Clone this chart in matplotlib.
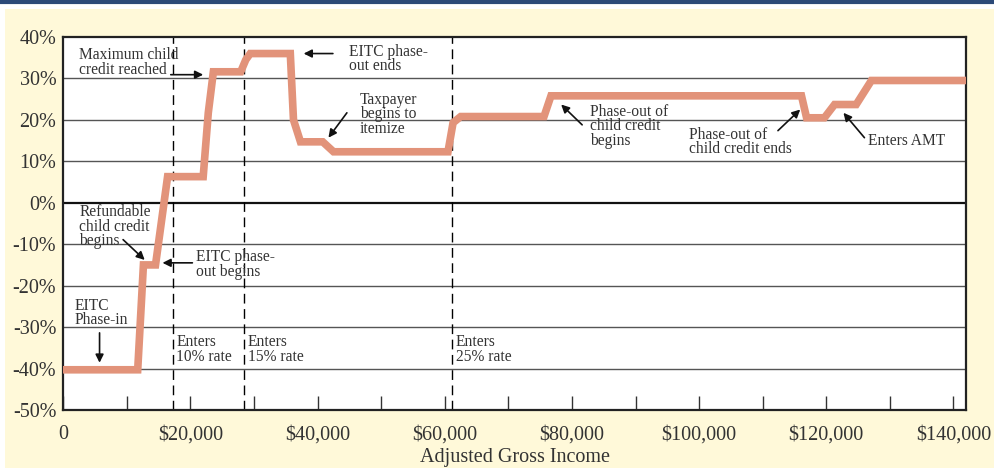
import numpy as np
import matplotlib.pyplot as plt
from matplotlib.patches import Rectangle
from matplotlib.lines import Line2D

plt.rcParams['font.family'] = ['Liberation Serif', 'DejaVu Serif']

# marginal tax rate schedule, income in dollars, rate in percent
income = [0, 11700, 12600, 14500, 16400, 22000, 22800, 23600, 27900, 28700, 29400,
          35700, 36200, 37300, 40800, 42500, 60500, 61300, 62500, 75600, 76700,
          116100, 116900, 119700, 121300, 124700, 127100, 141700]
rate = [-40.3, -40.3, -15, -15, 6.3, 6.3, 21.7, 31.6, 31.6, 34.5, 36,
        36, 20, 14.7, 14.7, 12.3, 12.3, 19.3, 20.8, 20.8, 25.8,
        25.8, 20.5, 20.5, 23.7, 23.7, 29.5, 29.5]

bracket_x = [17200, 28400, 61100]
bracket_labels = ['Enters\n10% rate', 'Enters\n15% rate', 'Enters\n25% rate']

# (text, text xy, arrow tail, arrow head)
notes = [
    ('Maximum child\ncredit reached', (2400, 33.9), (16900, 30.9), (22000, 30.9)),
    ('EITC phase-\nout ends', (44900, 34.7), (42400, 36.0), (37800, 36.0)),
    ('Taxpayer\nbegins to\nitemize', (46600, 21.3), (44600, 21.7), (41700, 15.7)),
    ('Phase-out of\nchild credit\nbegins', (82800, 18.4), (81600, 18.8), (78300, 23.7)),
    ('Phase-out of\nchild credit ends', (98400, 14.7), (112400, 17.4), (115900, 22.5)),
    ('Enters AMT', (126500, 15.0), (126000, 15.7), (122700, 21.7)),
    ('Refundable\nchild credit\nbegins', (2500, -5.8), (9400, -8.9), (12800, -13.8)),
    ('EITC phase-\nout begins', (20800, -14.9), (20300, -14.5), (15600, -14.5)),
    ('EITC\nPhase-in', (1700, -26.6), (5700, -31.4), (5700, -38.6)),
]

fig = plt.figure(figsize=(9.94, 4.68), dpi=100)
fig.patches.append(Rectangle((0.005, 0), 0.995, 0.98, transform=fig.transFigure,
                             facecolor='#FFF9D9', edgecolor='none', zorder=-10))
fig.add_artist(Line2D([0, 1], [0.996, 0.996], transform=fig.transFigure,
                      color='#2C4A78', lw=3))

ax = fig.add_axes([0.0637, 0.124, 0.9083, 0.797])
ax.set_xlim(0, 142000)
ax.set_ylim(-50, 40)

for y in range(-40, 40, 10):
    ax.axhline(y, color='#111111' if y == 0 else '#555555',
               lw=1.6 if y == 0 else 1.0, zorder=1)

for bx, lab in zip(bracket_x, bracket_labels):
    ax.axvline(bx, color='black', lw=1.0, dashes=(7, 4), zorder=2)
    ax.text(bx + 600, -35.4, lab, fontsize=11.2, va='center', ha='left',
            color='#333333', linespacing=0.88)

ax.plot(income, rate, color='#E2937A', lw=5.5, solid_joinstyle='miter', zorder=3)

for txt, xy, tail, head in notes:
    ax.text(xy[0], xy[1], txt, fontsize=11.2, va='center', ha='left',
            color='#333333', linespacing=0.88, zorder=4)
    ax.annotate('', xy=head, xytext=tail,
                arrowprops=dict(arrowstyle='-|>', color='#111111', lw=1.2,
                                mutation_scale=12, shrinkA=0, shrinkB=0), zorder=4)

ax.set_xticks(np.arange(0, 141000, 20000))
ax.set_xticklabels(['0'] + ['${:,}'.format(v) for v in range(20000, 141000, 20000)])
ax.set_xticks(np.arange(10000, 141000, 20000), minor=True)
ax.tick_params(axis='x', which='both', direction='in', length=10, width=1,
               color='#333333', labelsize=14.5, pad=11, labelcolor='#333333')

ax.set_yticks(range(-50, 41, 10))
ax.set_yticklabels(['{}%'.format(v) for v in range(-50, 41, 10)])
ax.tick_params(axis='y', length=0, labelsize=14.5, pad=5, labelcolor='#333333')

for s in ax.spines.values():
    s.set_linewidth(1.6)
    s.set_color('#222222')

ax.set_xlabel('Adjusted Gross Income', fontsize=14.5, color='#333333', labelpad=3)

fig.savefig('out.png', dpi=100)
